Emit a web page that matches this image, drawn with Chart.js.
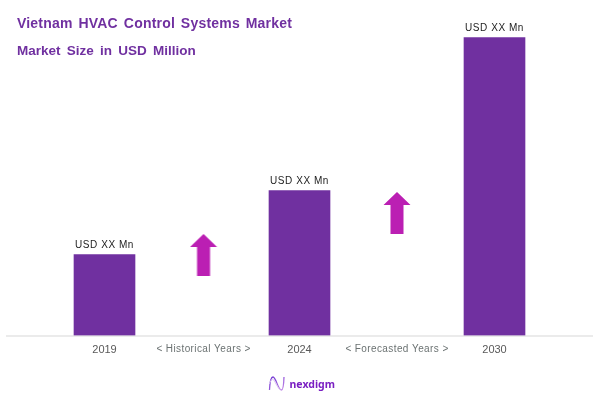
<!DOCTYPE html>
<html><head><meta charset="utf-8">
<script src="https://cdn.jsdelivr.net/npm/chart.js@4/dist/chart.umd.min.js"></script>
<style>
html,body{margin:0;padding:0;background:#fff;width:602px;height:400px;overflow:hidden}
#wrap{position:relative;width:602px;height:400px}
canvas{position:absolute;left:0;top:0}
.t{position:absolute;left:17px;font:bold 14px "Liberation Sans",Arial,sans-serif;color:#7030A0;white-space:nowrap;word-spacing:1.8px;letter-spacing:.2px;line-height:16px}
#logoText{position:absolute;left:289.5px;top:376px;font:bold 10.5px "Noto Sans",sans-serif;color:#7a1fc2;line-height:16px}
#logo{position:absolute;left:268px;top:375px}
</style></head><body>
<div id="wrap">
<canvas id="c" width="602" height="400"></canvas>
<div class="t" style="top:15px">Vietnam HVAC Control Systems Market</div>
<div class="t" style="top:42.5px;font-size:13.5px;letter-spacing:0;word-spacing:2.5px">Market Size in USD Million</div>
<svg id="logo" width="18" height="18" viewBox="0 0 18 18"><defs><linearGradient id="g" x1="0" y1="0" x2="1" y2="1"><stop offset="0" stop-color="#6a2fd0"/><stop offset="1" stop-color="#c58be8"/></linearGradient></defs>
<path d="M1.5 15C2 5 3 2 5 2c3 0 5 13 8.5 13 1.5 0 2.2-4 2.5-13" fill="none" stroke="url(#g)" stroke-width="1.3"/><path d="M1.5 9C3 4 4.5 3 6.5 6c2 4 4 8 6 9" fill="none" stroke="#d9c2f0" stroke-width="1"/></svg>
<div id="logoText">nexdigm</div>
</div>
<script>
const categories = ["2019", "2024", "2030"];
const barValues = [81, 145, 298];
const barLabels = ["USD XX Mn", "USD XX Mn", "USD XX Mn"];
const midLabels = ["< Historical Years >", "< Forecasted Years >"];
const midPositions = [1.008, 2.0];
const arrowValues = [80.5, 122.5];

function arrowImage() {
  const w = 28, h = 42, cv = document.createElement('canvas');
  cv.width = w; cv.height = h;
  const a = cv.getContext('2d');
  a.fillStyle = '#BB1FB3';
  a.beginPath();
  a.moveTo(14, 0); a.lineTo(27.5, 13); a.lineTo(20.5, 13); a.lineTo(20.5, 42);
  a.lineTo(7.5, 42); a.lineTo(7.5, 13); a.lineTo(0.5, 13); a.closePath();
  a.fill();
  return cv;
}

const textPlugin = {
  id: 'textPlugin',
  afterDatasetsDraw(chart) {
    const ctx = chart.ctx;
    ctx.save();
    ctx.textAlign = 'center';
    ctx.textBaseline = 'alphabetic';
    ctx.font = '10px "Liberation Sans", Arial, sans-serif';
    ctx.letterSpacing = '0.55px';
    ctx.fillStyle = '#222222';
    chart.getDatasetMeta(0).data.forEach((bar, i) => {
      ctx.fillText(barLabels[i], bar.x, bar.y - 7);
    });
    ctx.fillStyle = '#6b7272';
    ctx.letterSpacing = '0.4px';
    const sx = chart.scales.xMid;
    midLabels.forEach((t, i) => ctx.fillText(t, sx.getPixelForValue(midPositions[i]), 352));
    ctx.restore();
  }
};

new Chart(document.getElementById('c').getContext('2d'), {
  type: 'bar',
  data: {
    labels: categories,
    datasets: [
      { data: barValues, backgroundColor: '#7030A0', barThickness: 61, grouped: false, order: 2 },
      { type: 'line', xAxisID: 'xMid', showLine: false, order: 1,
        data: midPositions.map((x, i) => ({ x, y: arrowValues[i] })),
        pointStyle: arrowImage(), pointRadius: 14 }
    ]
  },
  options: {
    responsive: false,
    animation: false,
    devicePixelRatio: 1,
    layout: { autoPadding: false, padding: { left: 7, right: 10, top: 5.5, bottom: 0 } },
    plugins: { legend: { display: false }, tooltip: { enabled: false }, title: { display: false } },
    scales: {
      x: {
        grid: { display: false, drawTicks: false },
        border: { color: '#ebebeb', width: 2 },
        ticks: { color: '#595959', font: { family: '"Liberation Sans", Arial, sans-serif', size: 11 }, padding: 8, maxRotation: 0 },
        afterFit(s) { s.height = 64.5; }
      },
      xMid: { type: 'linear', display: false, offset: false, min: 0, max: 3 },
      y: { display: false, min: 0, max: 330 }
    }
  },
  plugins: [textPlugin]
});
</script>
</body></html>
